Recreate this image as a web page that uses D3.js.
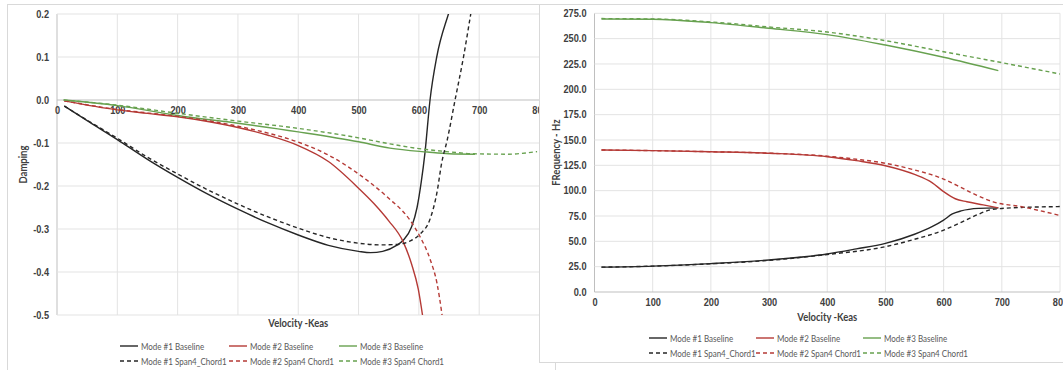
<!DOCTYPE html>
<html>
<head>
<meta charset="utf-8">
<script src="https://cdn.jsdelivr.net/npm/d3@7"></script>
<style>
  html, body { margin: 0; padding: 0; background: #fff; }
  svg { display: block; font-family: Lato, "Open Sans", sans-serif; }
  .tick text { font-size: 10px; font-weight: 700; fill: #404040; }
  .title { font-size: 11px; font-weight: 700; fill: #404040; }
  .legend text { font-size: 10px; fill: #595959; }
</style>
</head>
<body>
<svg id="chart" width="1063" height="370"></svg>
<script>
// ---------- tick values ----------
const velTicks = [0, 100, 200, 300, 400, 500, 600, 700, 800];
const dampTicks = [-0.5, -0.4, -0.3, -0.2, -0.1, 0.0, 0.1, 0.2];
const freqTicks = [0, 25, 50, 75, 100, 125, 150, 175, 200, 225, 250, 275];

// ---------- damping vs velocity ----------
const dampMode1BaseVel = [12, 50, 100, 150, 200, 250, 300, 350, 400, 450, 500, 520, 540, 563, 574, 588, 597, 604, 610, 618.5, 629.6, 649, 660];
const dampMode1Base    = [-0.014, -0.048, -0.092, -0.138, -0.18, -0.219, -0.254, -0.286, -0.314, -0.338, -0.352, -0.355, -0.352, -0.338, -0.326, -0.295, -0.25, -0.19, -0.124, 0.0, 0.1, 0.2, 0.25];
const dampMode1SpanVel = [12, 50, 100, 150, 200, 250, 300, 350, 400, 450, 500, 536, 563, 585, 602, 619, 630, 638, 647, 660, 674, 686, 692];
const dampMode1Span    = [-0.014, -0.047, -0.089, -0.133, -0.172, -0.209, -0.242, -0.272, -0.298, -0.32, -0.333, -0.337, -0.336, -0.328, -0.312, -0.275, -0.215, -0.145, -0.093, 0.0, 0.1, 0.2, 0.25];

const dampMode2BaseVel = [12, 100, 150, 200, 250, 300, 350, 400, 450, 500, 525, 550, 574, 588, 599, 606, 612];
const dampMode2Base    = [-0.002, -0.023, -0.031, -0.039, -0.05, -0.064, -0.082, -0.106, -0.143, -0.205, -0.24, -0.281, -0.33, -0.382, -0.44, -0.5, -0.56];
const dampMode2SpanVel = [12, 100, 150, 200, 250, 300, 350, 400, 450, 500, 547, 585, 602, 619, 630, 638, 642];
const dampMode2Span    = [-0.002, -0.022, -0.03, -0.038, -0.048, -0.061, -0.077, -0.098, -0.128, -0.172, -0.225, -0.279, -0.318, -0.372, -0.426, -0.496, -0.54];

const dampMode3BaseVel = [11, 100, 200, 300, 400, 500, 552, 614, 650, 693];
const dampMode3Base    = [0.0, -0.013, -0.036, -0.054, -0.074, -0.097, -0.112, -0.121, -0.125, -0.126];
const dampMode3SpanVel = [11, 100, 200, 300, 400, 500, 552, 600, 646, 691, 746, 796];
const dampMode3Span    = [0.0, -0.012, -0.031, -0.049, -0.066, -0.088, -0.102, -0.113, -0.12, -0.125, -0.126, -0.12];

// ---------- frequency vs velocity ----------
const freqMode1BaseVel = [12, 100, 200, 300, 400, 450, 500, 550, 580, 600, 615, 630, 660, 694];
const freqMode1Base    = [24.5, 25.5, 28.0, 31.6, 37.5, 42.5, 48.0, 57.0, 64.5, 71.0, 77.0, 80.0, 82.5, 83.0];
const freqMode1SpanVel = [12, 100, 200, 300, 400, 500, 550, 593, 627, 657, 685, 737, 791, 800];
const freqMode1Span    = [24.5, 25.5, 27.8, 31.2, 37.0, 44.7, 52.0, 59.5, 67.8, 76.0, 81.6, 83.5, 84.2, 84.3];

const freqMode2BaseVel = [12, 100, 200, 300, 400, 450, 500, 550, 580, 600, 620, 640, 668, 694];
const freqMode2Base    = [140.1, 139.5, 138.4, 136.9, 133.5, 129.6, 124.6, 116.0, 108.0, 99.0, 92.0, 89.0, 86.0, 83.0];
const freqMode2SpanVel = [12, 100, 200, 300, 400, 450, 500, 550, 593, 627, 651, 685, 737, 800];
const freqMode2Span    = [140.1, 139.5, 138.4, 137.0, 134.0, 131.0, 127.0, 120.4, 113.0, 104.0, 97.0, 89.0, 83.8, 75.5];

const freqMode3BaseVel = [12, 100, 200, 300, 400, 500, 600, 694];
const freqMode3Base    = [269.4, 269.2, 265.8, 260.2, 254.0, 243.7, 231.6, 218.4];
const freqMode3SpanVel = [12, 100, 200, 300, 400, 500, 600, 700, 800];
const freqMode3Span    = [269.8, 269.4, 266.5, 261.5, 256.5, 248.0, 237.1, 226.3, 215.1];

// ---------- series styling ----------
const colors = { m1: "#262626", m2: "#b53a36", m3: "#67a14f" };
const dash = "4 3";
const legendLabels = [
  ["Mode #1 Baseline", "m1", false], ["Mode #2 Baseline", "m2", false], ["Mode #3 Baseline", "m3", false],
  ["Mode #1 Span4_Chord1", "m1", true], ["Mode #2 Span4 Chord1", "m2", true], ["Mode #3 Span4 Chord1", "m3", true]
];

const svg = d3.select("#chart");
const zip = (xs, ys) => xs.map((x, i) => [x, ys[i]]);
const fmt1 = d => d.toFixed(1);

// narrow a text horizontally by a factor, keeping it as live text
function condense(sel, k) {
  sel.each(function () {
    const w = this.getComputedTextLength();
    d3.select(this).attr("textLength", w * k).attr("lengthAdjust", "spacingAndGlyphs");
  });
}

function drawPanel(cfg) {
  const g = svg.append("g");
  // chart frame
  g.append("rect").attr("x", cfg.frame[0]).attr("y", cfg.frame[1])
    .attr("width", cfg.frame[2]).attr("height", cfg.frame[3])
    .attr("fill", "#fff").attr("stroke", "#d9d9d9").attr("stroke-width", 1);

  const x = d3.scaleLinear().domain([0, 800]).range(cfg.xr);
  const y = d3.scaleLinear().domain(cfg.yd).range(cfg.yr);

  // gridlines
  g.append("g").selectAll("line").data(velTicks).join("line")
    .attr("x1", d => x(d)).attr("x2", d => x(d))
    .attr("y1", cfg.yr[0]).attr("y2", cfg.yr[1])
    .attr("stroke", d => d === 0 ? "#bfbfbf" : "#e3e3e3").attr("stroke-width", 1);
  g.append("g").selectAll("line").data(cfg.yTicks).join("line")
    .attr("x1", cfg.xr[0]).attr("x2", cfg.xr[1])
    .attr("y1", d => y(d)).attr("y2", d => y(d))
    .attr("stroke", d => d === cfg.xAxisAt ? "#bfbfbf" : "#e3e3e3").attr("stroke-width", 1);

  // axes labels
  const ya = g.append("g").attr("transform", `translate(${cfg.xr[0]},0)`)
    .call(d3.axisLeft(y).tickValues(cfg.yTicks).tickFormat(fmt1).tickSize(0).tickPadding(8));
  ya.select(".domain").remove();
  const xa = g.append("g").attr("transform", `translate(0,${y(cfg.xAxisAt)})`)
    .call(d3.axisBottom(x).tickValues(velTicks).tickFormat(d3.format("d")).tickSize(0).tickPadding(7));
  xa.select(".domain").remove();
  g.selectAll(".tick text").attr("font-family", null).attr("font-size", null);
  condense(g.selectAll(".tick text"), 0.92);

  // curves
  const clipId = cfg.id + "-clip";
  g.append("clipPath").attr("id", clipId).append("rect")
    .attr("x", cfg.xr[0]).attr("y", cfg.yr[1])
    .attr("width", cfg.xr[1] - cfg.xr[0]).attr("height", cfg.yr[0] - cfg.yr[1]);
  const line = d3.line().x(d => x(d[0])).y(d => y(d[1])).curve(d3.curveMonotoneX);
  const lg = g.append("g").attr("clip-path", `url(#${clipId})`);
  cfg.series.forEach(s => {
    lg.append("path").datum(zip(s.vel, s.val))
      .attr("d", line).attr("fill", "none")
      .attr("stroke", colors[s.key]).attr("stroke-width", 1.4)
      .attr("stroke-dasharray", s.dashed ? dash : null);
  });

  // axis titles
  const xt = g.append("text").attr("class", "title").attr("text-anchor", "middle")
    .attr("x", (cfg.xr[0] + cfg.xr[1]) / 2).attr("y", cfg.xTitleY).text("Velocity -Keas");
  const yt = g.append("text").attr("class", "title").attr("text-anchor", "middle")
    .attr("transform", `translate(${cfg.yTitleX},${(cfg.yr[0] + cfg.yr[1]) / 2}) rotate(-90)`)
    .text(cfg.yTitle);
  condense(xt, 0.86);
  condense(yt, 0.86);

  // legend
  const leg = g.append("g").attr("class", "legend");
  legendLabels.forEach((l, i) => {
    const col = i % 3, row = Math.floor(i / 3);
    const lx = cfg.legX[col], ly = cfg.legY[row];
    leg.append("line").attr("x1", lx).attr("x2", lx + 18).attr("y1", ly).attr("y2", ly)
      .attr("stroke", colors[l[1]]).attr("stroke-width", 1.4)
      .attr("stroke-dasharray", l[2] ? dash : null);
    leg.append("text").attr("x", lx + 21).attr("y", ly).attr("dy", "0.35em").text(l[0]);
  });
  condense(leg.selectAll("text"), 0.8);
}

// left: damping
drawPanel({
  id: "damp",
  frame: [7.5, 4.5, 548, 380],
  xr: [57, 539.5], yd: [-0.5, 0.2], yr: [315, 14],
  yTicks: dampTicks, xAxisAt: 0,
  xTitleY: 327, yTitleX: 27, yTitle: "Damping",
  legX: [120, 229, 339], legY: [346, 361],
  series: [
    { key: "m1", dashed: false, vel: dampMode1BaseVel, val: dampMode1Base },
    { key: "m2", dashed: false, vel: dampMode2BaseVel, val: dampMode2Base },
    { key: "m3", dashed: false, vel: dampMode3BaseVel, val: dampMode3Base },
    { key: "m1", dashed: true, vel: dampMode1SpanVel, val: dampMode1Span },
    { key: "m2", dashed: true, vel: dampMode2SpanVel, val: dampMode2Span },
    { key: "m3", dashed: true, vel: dampMode3SpanVel, val: dampMode3Span }
  ]
});

// right: frequency
drawPanel({
  id: "freq",
  frame: [539.5, 4.5, 540, 358],
  xr: [594.5, 1060], yd: [0, 275], yr: [292, 13.3],
  yTicks: freqTicks, xAxisAt: 0,
  xTitleY: 321, yTitleX: 560, yTitle: "FRequency - Hz",
  legX: [649, 756, 863], legY: [338, 353],
  series: [
    { key: "m1", dashed: false, vel: freqMode1BaseVel, val: freqMode1Base },
    { key: "m2", dashed: false, vel: freqMode2BaseVel, val: freqMode2Base },
    { key: "m3", dashed: false, vel: freqMode3BaseVel, val: freqMode3Base },
    { key: "m1", dashed: true, vel: freqMode1SpanVel, val: freqMode1Span },
    { key: "m2", dashed: true, vel: freqMode2SpanVel, val: freqMode2Span },
    { key: "m3", dashed: true, vel: freqMode3SpanVel, val: freqMode3Span }
  ]
});
</script>
</body>
</html>
